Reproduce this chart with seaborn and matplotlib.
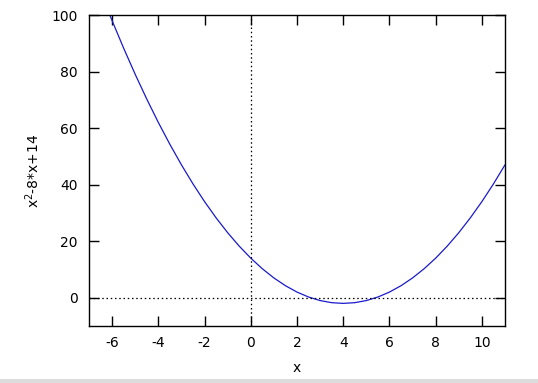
import matplotlib
matplotlib.use("Agg")
import matplotlib.pyplot as plt
import seaborn as sns
import pandas as pd
from matplotlib.patches import Rectangle

sns.set_theme(style="white")
plt.rcParams['font.family'] = ['DejaVu Sans']
plt.rcParams['axes.unicode_minus'] = False

x_vals = [-6.1, -6.0, -5.5, -5.0, -4.5, -4.0, -3.5, -3.0, -2.5, -2.0, -1.5, -1.0, -0.5,
          0.0, 0.5, 1.0, 1.5, 2.0, 2.5, 3.0, 3.5, 4.0, 4.5, 5.0, 5.5, 6.0, 6.5,
          7.0, 7.5, 8.0, 8.5, 9.0, 9.5, 10.0, 10.5, 11.0]
y_vals = [100.0, 98.0, 88.25, 79.0, 70.25, 62.0, 54.25, 47.0, 40.25, 34.0, 28.25, 23.0, 18.25,
          14.0, 10.25, 7.0, 4.25, 2.0, 0.25, -1.0, -1.75, -2.0, -1.75, -1.0, 0.25, 2.0, 4.25,
          7.0, 10.25, 14.0, 18.25, 23.0, 28.25, 34.0, 40.25, 47.0]
x_ticks = [-6, -4, -2, 0, 2, 4, 6, 8, 10]
y_ticks = [0, 20, 40, 60, 80, 100]

df = pd.DataFrame({"x": x_vals, "y": y_vals})

W, H = 538, 383
fig = plt.figure(figsize=(W / 100, H / 100), dpi=100)
ax = fig.add_axes([89 / W, 1 - 326 / H, (505 - 89) / W, (326 - 15) / H])

sns.lineplot(data=df, x="x", y="y", ax=ax, color="#1a1acc", linewidth=0.9, sort=False)

ax.axhline(0, color="black", linestyle=(0, (1.2, 2.2)), linewidth=0.9)
ax.axvline(0, color="black", linestyle=(0, (1.2, 2.2)), linewidth=0.9)

ax.set_xlim(-7, 11)
ax.set_ylim(-10, 100)
ax.set_xticks(x_ticks)
ax.set_yticks(y_ticks)
ax.tick_params(direction="in", length=7, width=1, colors="black", labelsize=10,
               top=True, right=True, bottom=True, left=True, pad=8)
ax.tick_params(axis="x", pad=7)
for s in ax.spines.values():
    s.set_color("black")
    s.set_linewidth(1)

ax.set_xlabel("x", fontsize=10, color="black", labelpad=8)
ax.set_ylabel("x$^{2}$-8*x+14", fontsize=10, color="black", labelpad=7)

fig.patches.append(Rectangle((0, 0), 1, 4 / H, transform=fig.transFigure,
                             facecolor="#dcdcdc", edgecolor="none"))

fig.savefig("out.png", dpi=100)
